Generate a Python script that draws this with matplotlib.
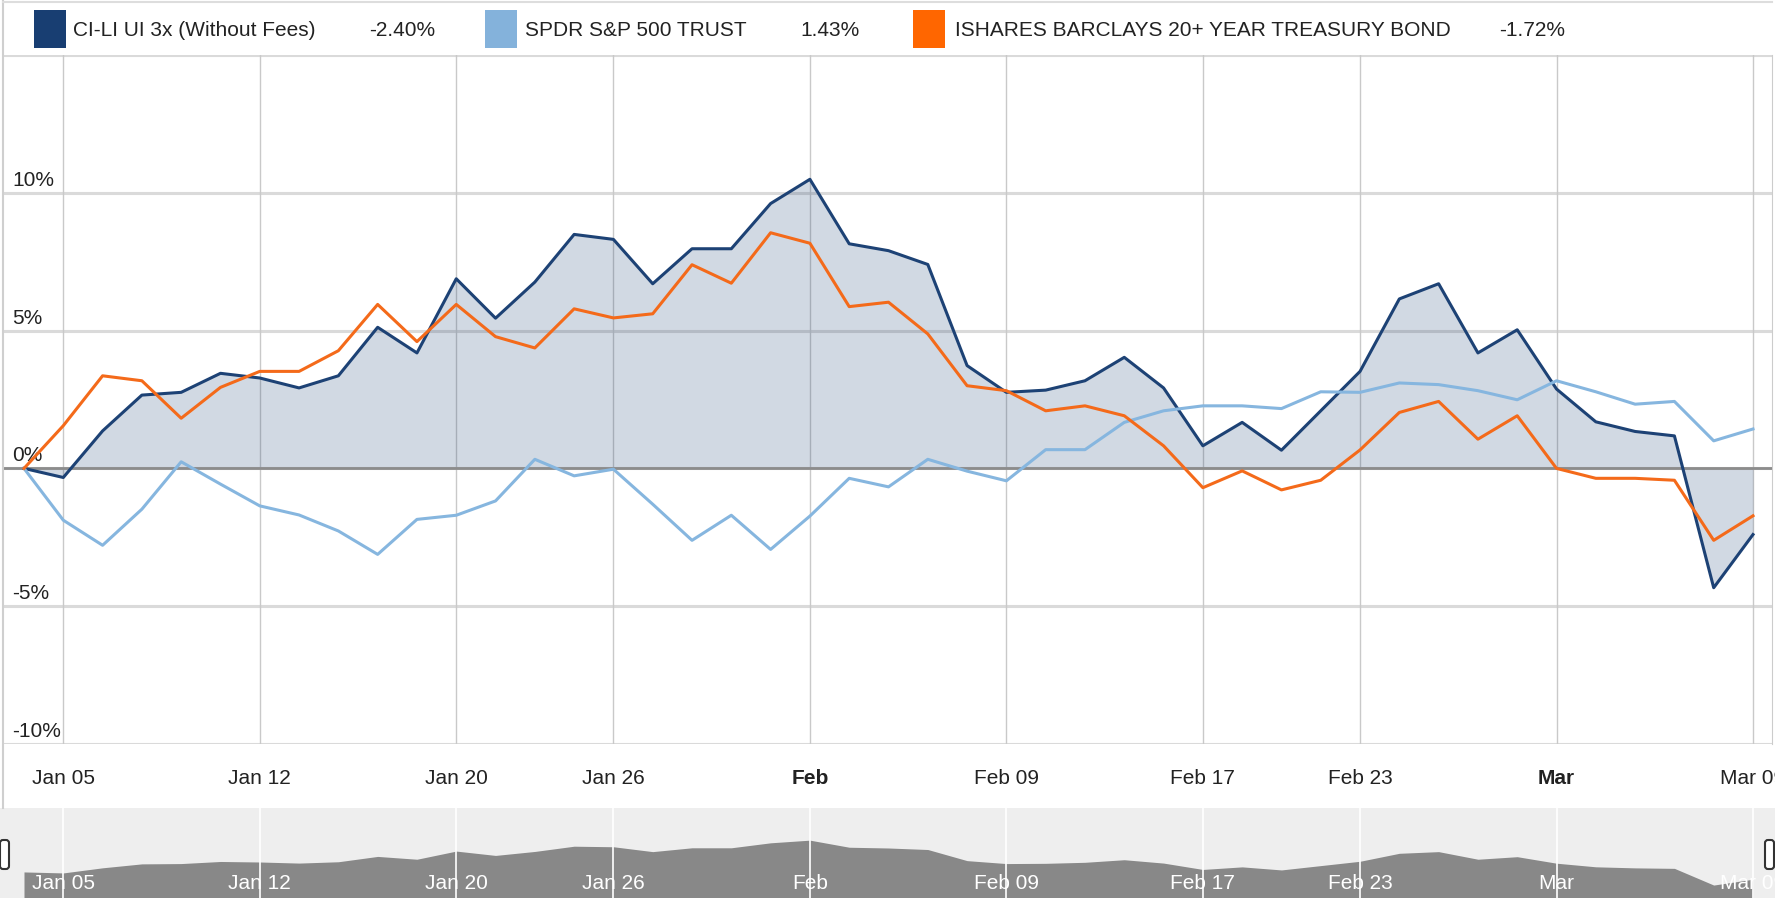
"""
Recreate the CI-LI vs SPDR vs TLT performance chart (Highstock style).
Writes out.png, 1775x898.
"""

import matplotlib.patches as mpatches
import matplotlib.pyplot as plt
import pandas as pd
from matplotlib import font_manager

W, H = 1775, 898
DPI = 100

# --- data (percent change since Jan 02 2015, one point per trading day) ---
HOLIDAYS = ["2015-01-19", "2015-02-16"]

CILI = [0.00, -0.33, 1.36, 2.66, 2.76, 3.45, 3.28, 2.92, 3.36, 5.12,
        4.19, 6.88, 5.45, 6.76, 8.49, 8.31, 6.70, 7.97, 7.97, 9.61,
        10.49, 8.15, 7.90, 7.40, 3.73, 2.76, 2.84, 3.18, 4.03, 2.92,
        0.82, 1.67, 0.66, 2.09, 3.52, 6.15, 6.70, 4.19, 5.03, 2.88,
        1.69, 1.34, 1.18, -4.33, -2.40]
SPDR = [0.00, -1.88, -2.79, -1.48, 0.24, -0.57, -1.36, -1.69, -2.27, -3.12,
        -1.85, -1.70, -1.18, 0.33, -0.27, -0.03, -1.30, -2.61, -1.70, -2.94,
        -1.73, -0.36, -0.67, 0.33, -0.10, -0.45, 0.68, 0.68, 1.67, 2.09,
        2.27, 2.27, 2.17, 2.78, 2.76, 3.10, 3.04, 2.82, 2.49, 3.18,
        2.78, 2.33, 2.43, 1.00, 1.43]
TLT = [0.00, 1.55, 3.36, 3.18, 1.82, 2.94, 3.52, 3.52, 4.27, 5.95,
       4.60, 5.95, 4.78, 4.37, 5.79, 5.46, 5.61, 7.39, 6.72, 8.55,
       8.17, 5.87, 6.03, 4.88, 3.00, 2.82, 2.09, 2.27, 1.91, 0.82,
       -0.70, -0.09, -0.78, -0.43, 0.67, 2.03, 2.43, 1.06, 1.91, 0.00,
       -0.36, -0.36, -0.43, -2.61, -1.72]

NAMES = [
    "CI-LI UI 3x (Without Fees)",
    "SPDR S&P 500 TRUST",
    "ISHARES BARCLAYS 20+ YEAR TREASURY BOND",
]

TICK_DATES = ["2015-01-05", "2015-01-12", "2015-01-20", "2015-01-26", "2015-02-02",
              "2015-02-09", "2015-02-17", "2015-02-23", "2015-03-02", "2015-03-09"]
TICK_LABELS = ["Jan 05", "Jan 12", "Jan 20", "Jan 26", "Feb",
               "Feb 09", "Feb 17", "Feb 23", "Mar", "Mar 09"]
BOLD_LABELS = ["Feb", "Mar"]
Y_TICKS = [-10, -5, 0, 5, 10]

# --- style ---
NAVY = "#1D4275"
NAVY_KEY = "#183E72"
LIGHT = "#86B6DF"
LIGHT_KEY = "#84B2DB"
ORANGE = "#F46A1A"
ORANGE_KEY = "#FF6600"
GRID_H = "#DADADA"
GRID_V = "#C9C9C9"
ZERO = "#8C8C8C"
NAV_BG = "#EEEEEE"
NAV_AREA = "#888888"
TEXT = "#222222"

_installed = {f.name for f in font_manager.fontManager.ttflist}
FONT = "Liberation Sans Narrow" if "Liberation Sans Narrow" in _installed else "Liberation Sans"
FS = 18 if FONT == "Liberation Sans Narrow" else 15
plt.rcParams["font.family"] = [FONT, "DejaVu Sans"]

# pixel geometry of the plot
X0_PX, X_END_PX = 24, 1753       # first / last data point
N = len(CILI)
PX_PER = (X_END_PX - X0_PX) / (N - 1)


def fig_rect(left, top, right, bottom):
    return [left / W, 1 - bottom / H, (right - left) / W, (bottom - top) / H]


def xlim_for(left_px, right_px):
    return (-(X0_PX - left_px) / PX_PER, (N - 1) + (right_px - X_END_PX) / PX_PER)


def main():
    dates = pd.bdate_range("2015-01-02", "2015-03-09")
    dates = dates[~dates.isin(pd.to_datetime(HOLIDAYS))]
    x = list(range(len(dates)))
    tick_idx = [dates.get_loc(pd.Timestamp(d)) for d in TICK_DATES]

    fig = plt.figure(figsize=(W / DPI, H / DPI), dpi=DPI)
    fig.patch.set_facecolor("white")

    # --- main plot ---
    ax = fig.add_axes(fig_rect(3, 55, 1772, 744))
    ax.set_xlim(*xlim_for(3, 1772))
    ax.set_ylim(-10, 15)
    for s in ["top", "bottom", "left"]:
        ax.spines[s].set_visible(False)
    ax.spines["right"].set_color("#CCCCCC")

    for v in Y_TICKS + [15]:
        ax.axhline(v, color=GRID_H, lw=2.2, zorder=1)
    for i in tick_idx:
        ax.axvline(i, color=GRID_V, lw=1.0, zorder=1)

    ax.fill_between(x, CILI, 0, color=NAVY, alpha=0.2, lw=0, zorder=2)
    ax.axhline(0, color=ZERO, lw=2.0, zorder=3)
    ax.plot(x, CILI, color=NAVY, lw=2.2, zorder=4)
    ax.plot(x, SPDR, color=LIGHT, lw=2.2, zorder=5)
    ax.plot(x, TLT, color=ORANGE, lw=2.2, zorder=6)

    ax.set_yticks([])
    for v in Y_TICKS:
        ax.annotate(f"{v}%", xy=(0, v), xycoords=ax.get_yaxis_transform(),
                    xytext=(9, 3), textcoords="offset pixels",
                    ha="left", va="bottom", fontsize=FS, color=TEXT)

    ax.set_xticks(tick_idx)
    ax.set_xticklabels(TICK_LABELS, fontsize=FS, color=TEXT)
    ax.tick_params(axis="x", length=0, pad=18)
    for lab in ax.get_xticklabels():
        if lab.get_text() in BOLD_LABELS:
            lab.set_fontweight("bold")

    # --- navigator ---
    nav = fig.add_axes(fig_rect(0, 808, W, H))
    nav.set_facecolor(NAV_BG)
    nav.set_xlim(*xlim_for(0, W))
    nav.set_ylim(-8.6, 21.1)
    nav.axis("off")
    nav.add_patch(mpatches.Rectangle((0, 0), 1, 1, transform=nav.transAxes,
                                     facecolor=NAV_BG, lw=0, zorder=0))
    nav.fill_between(x, CILI, -20, color=NAV_AREA, lw=0, zorder=1)
    for i, lab in zip(tick_idx, TICK_LABELS):
        nav.axvline(i, color="white", lw=1.2, zorder=2)
        nav.text(i, 0.165, lab, transform=nav.get_xaxis_transform(),
                 ha="center", va="center", fontsize=FS, color="white", zorder=3)

    # --- overlay: legend, borders, navigator handles ---
    ov = fig.add_axes([0, 0, 1, 1])
    ov.set_xlim(0, W)
    ov.set_ylim(H, 0)
    ov.axis("off")

    ov.plot([3, 3], [0, 808], color="#CFCFCF", lw=1.5)
    ov.plot([3, 1772], [1.5, 1.5], color="#DDDDDD", lw=1.5)

    legend = [
        (NAMES[0], CILI[-1], NAVY_KEY, 34, 73, 369),
        (NAMES[1], SPDR[-1], LIGHT_KEY, 485, 525, 800),
        (NAMES[2], TLT[-1], ORANGE_KEY, 913, 955, 1499),
    ]
    for name, last, color, kx, tx, vx in legend:
        ov.add_patch(mpatches.Rectangle((kx, 10), 32, 38, facecolor=color, lw=0))
        ov.text(tx, 30, name, ha="left", va="center", fontsize=FS, color=TEXT)
        ov.text(vx, 30, f"{last:.2f}%", ha="left", va="center", fontsize=FS, color=TEXT)

    for hx in (0, 1765):
        ov.add_patch(mpatches.FancyBboxPatch((hx, 840), 9, 29,
                                             boxstyle="round,pad=0,rounding_size=3",
                                             facecolor="white", edgecolor="#333333", lw=1.5))

    fig.savefig("out.png", dpi=DPI, facecolor="white")
    plt.close(fig)


if __name__ == "__main__":
    main()
